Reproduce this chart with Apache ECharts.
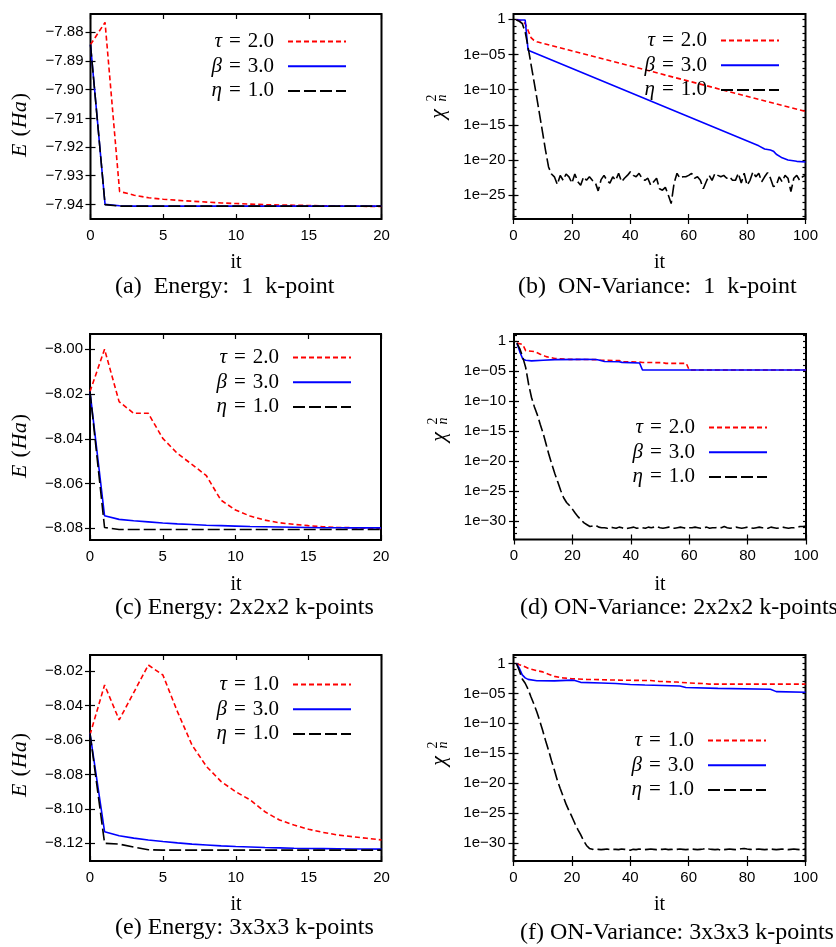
<!DOCTYPE html>
<html>
<head>
<meta charset="utf-8">
<title>SCF convergence: energy and ON-variance</title>
<script src="https://cdn.jsdelivr.net/npm/echarts@6.0.0/dist/echarts.min.js"></script>
<style>
  html, body { margin: 0; padding: 0; background: #ffffff; }
  #chart { width: 836px; height: 947px; }
</style>
</head>
<body>
<div id="chart"></div>
<script>
// ---------------- iterations ----------------
const itEnergy = [0, 1, 2, 3, 4, 5, 6, 7, 8, 9, 10, 11, 12, 13, 14, 15, 16, 17, 18, 19, 20];
const itVariance = [1, 2, 3, 4, 5, 6, 7, 8, 9, 10, 11, 12, 13, 14, 15, 16, 17, 18, 19, 20,
  21, 22, 23, 24, 25, 26, 27, 28, 29, 30, 31, 32, 33, 34, 35, 36, 37, 38, 39, 40,
  41, 42, 43, 44, 45, 46, 47, 48, 49, 50, 51, 52, 53, 54, 55, 56, 57, 58, 59, 60,
  61, 62, 63, 64, 65, 66, 67, 68, 69, 70, 71, 72, 73, 74, 75, 76, 77, 78, 79, 80,
  81, 82, 83, 84, 85, 86, 87, 88, 89, 90, 91, 92, 93, 94, 95, 96, 97, 98, 99, 100];

// ---------------- total energy E (Ha), one value per iteration ----------------
const energy1k_tau  = [-7.8843, -7.8765, -7.9355, -7.9368, -7.9377, -7.9382, -7.9386, -7.9389, -7.9392, -7.9395, -7.9397,
                       -7.9399, -7.9401, -7.9402, -7.9403, -7.9404, -7.9405, -7.9406, -7.9406, -7.9407, -7.9407];
const energy1k_beta = [-7.8843, -7.9400, -7.9405, -7.9406, -7.9406, -7.9406, -7.9406, -7.9406, -7.9406, -7.9406, -7.9406,
                       -7.9406, -7.9406, -7.9406, -7.9406, -7.9406, -7.9406, -7.9406, -7.9406, -7.9406, -7.9406];
const energy1k_eta  = [-7.8843, -7.9401, -7.9406, -7.9406, -7.9406, -7.9406, -7.9406, -7.9406, -7.9406, -7.9406, -7.9406,
                       -7.9406, -7.9406, -7.9406, -7.9406, -7.9406, -7.9406, -7.9406, -7.9406, -7.9406, -7.9406];

const energy2k_tau  = [-8.0189, -8.0000, -8.0234, -8.0286, -8.0286, -8.0398, -8.0465, -8.0514, -8.0565, -8.0674, -8.0718,
                       -8.0745, -8.0763, -8.0775, -8.0782, -8.0788, -8.0793, -8.0796, -8.0797, -8.0799, -8.0800];
const energy2k_beta = [-8.0189, -8.0744, -8.0760, -8.0766, -8.0771, -8.0776, -8.0780, -8.0783, -8.0786, -8.0788, -8.0790,
                       -8.0792, -8.0793, -8.0794, -8.0795, -8.0796, -8.0797, -8.0797, -8.0798, -8.0798, -8.0798];
const energy2k_eta  = [-8.0189, -8.0796, -8.0805, -8.0805, -8.0805, -8.0805, -8.0805, -8.0805, -8.0805, -8.0805, -8.0805,
                       -8.0805, -8.0805, -8.0805, -8.0805, -8.0805, -8.0805, -8.0805, -8.0805, -8.0805, -8.0805];

const energy3k_tau  = [-8.0570, -8.0281, -8.0484, -8.0325, -8.0165, -8.0223, -8.0436, -8.0630, -8.0755, -8.0842, -8.0901,
                       -8.0949, -8.1017, -8.1065, -8.1094, -8.1119, -8.1137, -8.1152, -8.1162, -8.1171, -8.1181];
const energy3k_beta = [-8.0562, -8.1133, -8.1156, -8.1170, -8.1181, -8.1190, -8.1198, -8.1205, -8.1210, -8.1215, -8.1219,
                       -8.1222, -8.1225, -8.1227, -8.1229, -8.1230, -8.1231, -8.1232, -8.1233, -8.1233, -8.1234];
const energy3k_eta  = [-8.0562, -8.1200, -8.1205, -8.1222, -8.1238, -8.1240, -8.1240, -8.1240, -8.1240, -8.1240, -8.1240,
                       -8.1240, -8.1240, -8.1240, -8.1240, -8.1240, -8.1240, -8.1240, -8.1240, -8.1240, -8.1240];

// ---------------- ON-variance chi^2_n, stored as log10(chi^2_n) ----------------
// [iteration, log10] pairs where the curve is piecewise straight
const chi1k_tau  = [[1, -0.1], [2, -0.15], [3, -0.3], [4, -0.6], [5, -1.6], [6, -2.6], [7, -3.0], [8, -3.2], [100, -13.1]];
const chi1k_beta = [[1, -0.1], [2, -0.1], [3, -0.1], [4, -0.1], [5, -4.4], [84, -18.0], [86, -18.45], [88, -18.6],
                    [89, -18.75], [90, -19.2], [92, -19.7], [94, -20.0], [97, -20.2], [100, -20.3]];
// one value per iteration 1..100
const chi1k_eta  = [-0.1, -0.3, -0.6, -1.8, -4.0, -6.4, -8.8, -11.2, -13.7, -16.2,
  -18.7, -21.0, -22.0, -22.4, -23.5, -22.2, -22.9, -22.0, -22.4, -23.3,
  -22.0, -23.1, -23.6, -22.4, -22.9, -22.4, -22.9, -23.2, -24.4, -22.8,
  -22.2, -22.9, -23.3, -22.4, -22.9, -21.9, -23.1, -22.6, -22.2, -21.7,
  -22.2, -22.4, -21.9, -22.6, -22.9, -22.6, -23.6, -23.1, -22.6, -24.1,
  -24.3, -23.9, -25.0, -26.2, -23.3, -21.9, -22.6, -22.4, -22.4, -22.2,
  -21.9, -22.6, -22.4, -22.9, -24.1, -23.1, -22.2, -22.9, -21.9, -22.2,
  -22.4, -22.2, -22.6, -22.4, -22.9, -22.9, -21.9, -23.3, -21.9, -23.6,
  -22.9, -21.7, -22.4, -21.9, -23.1, -22.4, -21.8, -22.6, -23.8, -23.6,
  -22.4, -23.1, -22.2, -22.6, -24.5, -22.6, -22.2, -22.9, -22.4, -22.2];

const chi2k_tau  = [[1, -0.35], [2, -0.45], [3, -0.6], [4, -1.6], [7, -1.75], [9, -2.2], [11, -2.6], [14, -2.9], [19, -3.05],
                    [28, -3.1], [29, -3.2], [36, -3.25], [37, -3.45], [43, -3.5], [44, -3.58], [51, -3.6], [52, -3.72],
                    [59, -3.72], [60, -4.83], [100, -4.83]];
const chi2k_beta = [[1, -0.35], [2, -1.8], [3, -3.0], [4, -3.2], [6, -3.3], [10, -3.2], [14, -3.1], [24, -3.05], [28, -3.08],
                    [29, -3.17], [31, -3.4], [36, -3.45], [37, -3.56], [43, -3.65], [44, -4.83], [100, -4.83]];
const chi2k_eta  = [-0.35, -1.3, -2.7, -4.4, -7.2, -9.4, -11.0, -12.3, -13.9, -15.4,
  -17.2, -19.0, -20.6, -22.1, -23.5, -24.9, -26.1, -26.9, -27.4, -28.0,
  -28.7, -29.3, -29.8, -30.3, -30.6, -30.9, -30.8, -30.7, -31.0, -31.1,
  -31.1, -31.2, -31.0, -31.1, -31.2, -31.0, -31.1, -31.3, -31.2, -31.1,
  -31.0, -31.2, -31.1, -31.1, -31.2, -31.0, -31.1, -31.0, -30.9, -31.1,
  -31.2, -31.1, -31.0, -31.1, -31.2, -31.1, -31.0, -31.1, -31.2, -31.1,
  -31.1, -31.0, -31.1, -31.2, -31.1, -31.0, -31.2, -31.1, -31.1, -31.0,
  -31.1, -30.9, -31.1, -31.2, -31.1, -31.0, -31.1, -31.2, -31.1, -31.0,
  -31.1, -31.2, -31.1, -31.0, -31.1, -31.1, -31.2, -31.0, -31.1, -31.2,
  -31.1, -31.0, -31.1, -31.2, -31.1, -31.1, -31.0, -30.9, -30.9, -30.8];

const chi3k_tau  = [[1, 0], [2, -0.2], [3, -0.35], [5, -0.8], [8, -1.2], [10, -1.4], [12, -1.8], [14, -2.15], [17, -2.4],
                    [20, -2.55], [25, -2.65], [35, -2.77], [47, -2.85], [50, -3.0], [56, -3.1], [60, -3.25], [65, -3.35],
                    [67, -3.45], [100, -3.45]];
const chi3k_beta = [[1, 0], [2, -0.8], [3, -1.9], [4, -2.4], [5, -2.65], [8, -2.88], [14, -2.9], [20, -2.78], [21, -2.85],
                    [23, -3.15], [30, -3.25], [35, -3.33], [40, -3.5], [45, -3.6], [57, -3.75], [59, -4.0], [70, -4.15],
                    [88, -4.3], [90, -4.7], [100, -4.8]];
const chi3k_eta  = [0, -1.2, -2.6, -3.3, -4.3, -5.6, -6.8, -8.1, -9.6, -11.2,
  -12.9, -14.5, -16.2, -17.8, -19.5, -20.9, -22.2, -23.5, -24.6, -25.6,
  -26.7, -27.7, -28.6, -29.6, -30.4, -30.9, -31.05, -31.0, -31.05, -31.1,
  -31.05, -31.0, -31.1, -31.05, -31.05, -31.1, -31.0, -31.05, -31.1, -31.2,
  -31.05, -31.1, -31.0, -31.05, -31.1, -31.05, -31.0, -31.05, -31.1, -31.05,
  -31.05, -31.0, -31.1, -31.05, -31.1, -31.05, -31.0, -31.05, -31.1, -31.05,
  -31.0, -31.05, -31.1, -31.05, -31.0, -30.85, -31.0, -31.05, -31.1, -31.05,
  -31.2, -31.1, -31.05, -31.0, -31.05, -31.1, -31.05, -30.95, -30.9, -31.0,
  -31.05, -31.1, -31.05, -31.0, -31.05, -31.1, -31.05, -31.0, -31.05, -31.1,
  -31.05, -31.0, -31.05, -31.1, -31.05, -31.0, -31.05, -31.1, -31.05, -31.0];

// ---------------- ticks and labels ----------------
const energyXTicks = [0, 5, 10, 15, 20];
const varianceXTicks = [0, 20, 40, 60, 80, 100];
const eTicks1k = [-7.94, -7.93, -7.92, -7.91, -7.90, -7.89, -7.88];
const eTicks2k = [-8.08, -8.06, -8.04, -8.02, -8.00];
const eTicks3k = [-8.12, -8.10, -8.08, -8.06, -8.04, -8.02];
const chiMajorExp = [0, -5, -10, -15, -20, -25, -30];
const chiMajorLabels = ['1', '1e\u221205', '1e\u221210', '1e\u221215', '1e\u221220', '1e\u221225', '1e\u221230'];
const chiMinorExp = [1, 0, -1, -2, -3, -4, -5, -6, -7, -8, -9, -10, -11, -12, -13, -14, -15, -16, -17,
  -18, -19, -20, -21, -22, -23, -24, -25, -26, -27, -28, -29, -30, -31, -32, -33];

const legendNames12 = ['\u03c4 = 2.0', '\u03b2 = 3.0', '\u03b7 = 1.0'];
const legendNames3  = ['\u03c4 = 1.0', '\u03b2 = 3.0', '\u03b7 = 1.0'];
const captions = ['(a)  Energy:  1  k-point', '(b)  ON-Variance:  1  k-point',
  '(c) Energy: 2x2x2 k-points', '(d) ON-Variance: 2x2x2 k-points',
  '(e) Energy: 3x3x3 k-points', '(f) ON-Variance: 3x3x3 k-points'];

// ---------------- styling ----------------
const SANS = 'Liberation Sans, Arial, Helvetica, sans-serif';
const SERIF = 'Liberation Serif, Times New Roman, serif';
const LINE_STYLES = [
  { color: '#ff0000', width: 1.6, type: [5, 3] },
  { color: '#0000ff', width: 1.6, type: 'solid' },
  { color: '#000000', width: 1.6, type: [12, 4] }
];

const option = {
  animation: false,
  backgroundColor: '#ffffff',
  grid: [], xAxis: [], yAxis: [], series: [], legend: [], graphic: []
};

const minus = s => s.replace('-', '\u2212');

function tickStyle(len) {
  return { show: true, inside: true, length: len, lineStyle: { color: '#000', width: 1.2 } };
}

function addXAxes(g, range, ticks) {
  const idx = option.xAxis.length;
  ['bottom', 'top'].forEach((pos, k) => {
    option.xAxis.push({
      type: 'value', gridIndex: g, position: pos, min: range[0], max: range[1],
      axisLine: { show: false }, splitLine: { show: false },
      axisTick: Object.assign(tickStyle(5), { customValues: ticks }),
      axisLabel: {
        show: k === 0, customValues: ticks, margin: 9, color: '#000',
        fontFamily: SANS, fontSize: 15, formatter: v => String(v)
      }
    });
  });
  return idx;
}

function addEnergyYAxes(g, range, ticks) {
  const idx = option.yAxis.length;
  ['left', 'right'].forEach((pos, k) => {
    option.yAxis.push({
      type: 'value', gridIndex: g, position: pos, min: range[0], max: range[1],
      axisLine: { show: false }, splitLine: { show: false },
      axisTick: Object.assign(tickStyle(5), { customValues: ticks }),
      axisLabel: {
        show: k === 0, customValues: ticks, margin: 7, color: '#000',
        fontFamily: SANS, fontSize: 15, formatter: v => minus(v.toFixed(2))
      }
    });
  });
  return idx;
}

function addLogYAxes(g, expRange) {
  const idx = option.yAxis.length;
  const min = Math.pow(10, expRange[0]), max = Math.pow(10, expRange[1]);
  const inRange = e => e >= expRange[0] && e <= expRange[1];
  const majors = chiMajorExp.filter(inRange).map(e => Math.pow(10, e));
  const minors = chiMinorExp.filter(inRange).map(e => Math.pow(10, e));
  const labelOf = v => {
    const k = chiMajorExp.indexOf(Math.round(Math.log10(v)));
    return k >= 0 ? chiMajorLabels[k] : '';
  };
  ['left', 'right'].forEach((pos, k) => {
    option.yAxis.push({
      type: 'log', logBase: 10, gridIndex: g, position: pos, min, max,
      axisLine: { show: false }, splitLine: { show: false }, minorSplitLine: { show: false },
      axisTick: Object.assign(tickStyle(5), { customValues: majors }),
      axisLabel: {
        show: k === 0, customValues: majors, margin: 8, color: '#000',
        fontFamily: SANS, fontSize: 15, formatter: labelOf
      }
    });
  });
  ['left', 'right'].forEach(pos => {
    option.yAxis.push({
      type: 'log', logBase: 10, gridIndex: g, position: pos, min, max,
      axisLine: { show: false }, splitLine: { show: false },
      axisTick: Object.assign(tickStyle(3), { customValues: minors }),
      axisLabel: { show: false }
    });
  });
  return idx;
}

function addLegend(names, right, top) {
  option.legend.push({
    data: names, orient: 'vertical', right, top, align: 'right',
    itemWidth: 58, itemHeight: 20, itemGap: 3.7, padding: 0, selectedMode: false,
    itemStyle: { opacity: 0 },
    textStyle: {
      color: '#000', fontFamily: SERIF, fontSize: 21, lineHeight: 20,
      rich: {
        g: { fontFamily: SERIF, fontSize: 21, lineHeight: 20, fontStyle: 'italic', color: '#000' },
        e: { fontFamily: SERIF, fontSize: 21, lineHeight: 20, color: '#000', padding: [0, 7, 0, 7] },
        n: { fontFamily: SERIF, fontSize: 21, lineHeight: 20, color: '#000', padding: [0, 9, 0, 0] }
      }
    },
    formatter: name => {
      const parts = name.split(' = ');
      return '{g|' + parts[0] + '}{e|=}{n|' + parts[1] + '}';
    }
  });
}

function addSeries(names, curves, xIdx, yIdx) {
  curves.forEach((data, k) => {
    option.series.push({
      type: 'line', name: names[k], xAxisIndex: xIdx, yAxisIndex: yIdx,
      data, symbol: 'none', showSymbol: false, clip: true, silent: true,
      lineStyle: LINE_STYLES[k], itemStyle: { color: LINE_STYLES[k].color },
      emphasis: { disabled: true }, z: 2 + k
    });
  });
}

function textEl(x, y, text, font, align, extra) {
  return Object.assign({
    type: 'text', x, y, silent: true,
    style: { text, font, fill: '#000', align: align || 'center', verticalAlign: 'middle',
             textAlign: align || 'center', textVerticalAlign: 'middle' }
  }, extra || {});
}

function energyName(x, y) {
  option.graphic.push({
    type: 'text', x, y, rotation: Math.PI / 2, silent: true,
    style: {
      text: '{i|E}{l|(}{i|Ha}{r|)}', fill: '#000', align: 'center', verticalAlign: 'middle',
      textAlign: 'center', textVerticalAlign: 'middle',
      rich: {
        i: { fontFamily: SERIF, fontSize: 22, fontStyle: 'italic', fill: '#000', color: '#000' },
        l: { fontFamily: SERIF, fontSize: 22, fill: '#000', color: '#000', padding: [0, 1, 0, 7] },
        r: { fontFamily: SERIF, fontSize: 22, fill: '#000', color: '#000', padding: [0, 0, 0, 1] }
      }
    }
  });
}

function chiName(x, y) {
  option.graphic.push({
    type: 'group', x, y, rotation: Math.PI / 2, silent: true,
    children: [
      textEl(-6, 0, '\u03c7', 'italic 22px ' + SERIF),
      textEl(10, -5.5, '2', '14px ' + SERIF),
      textEl(10, 4.5, 'n', 'italic 14px ' + SERIF)
    ]
  });
}

// ---------------- panel layout ----------------
const energyPanels = [
  { box: [90.5, 14, 291, 205], yRange: [-7.9451, -7.8736], ticks: eTicks1k,
    curves: [energy1k_tau, energy1k_beta, energy1k_eta], names: legendNames12,
    legend: [489, 31], yName: [20, 125], itLabel: [236, 263], caption: [115, 287, 0] },
  { box: [90, 334, 291, 206], yRange: [-8.0852, -7.9932], ticks: eTicks2k,
    curves: [energy2k_tau, energy2k_beta, energy2k_eta], names: legendNames12,
    legend: [484, 347], yName: [20, 446], itLabel: [236, 585], caption: [115, 608, 2] },
  { box: [90, 655, 291.5, 206], yRange: [-8.1303, -8.0107], ticks: eTicks3k,
    curves: [energy3k_tau, energy3k_beta, energy3k_eta], names: legendNames3,
    legend: [484, 674], yName: [20, 765], itLabel: [236, 905], caption: [115, 928, 4] }
];
const variancePanels = [
  { box: [513.5, 14, 292, 205], yRange: [-28.4, 0.75],
    curves: [chi1k_tau, chi1k_beta, chi1k_eta], names: legendNames12,
    legend: [56, 30], yName: [438, 108], itLabel: [659.5, 263], caption: [518, 287, 1] },
  { box: [514, 334, 292, 205.5], yRange: [-33.06, 1.17],
    curves: [chi2k_tau, chi2k_beta, chi2k_eta], names: legendNames12,
    legend: [68, 417], yName: [439, 431], itLabel: [660, 585], caption: [520, 608, 3] },
  { box: [513.5, 655, 292, 206], yRange: [-33.0, 1.42],
    curves: [chi3k_tau, chi3k_beta, chi3k_eta], names: legendNames3,
    legend: [69, 730], yName: [439, 755], itLabel: [659.5, 905], caption: [520, 933, 5] }
];

function addGrid(box) {
  option.grid.push({
    left: box[0], top: box[1], width: box[2], height: box[3],
    show: true, borderWidth: 2, borderColor: '#000', backgroundColor: 'rgba(0,0,0,0)'
  });
  return option.grid.length - 1;
}

function addTexts(p) {
  option.graphic.push(textEl(p.itLabel[0], p.itLabel[1], 'it', '20px ' + SERIF));
  option.graphic.push(textEl(p.caption[0], p.caption[1], captions[p.caption[2]], '24px ' + SERIF, 'left'));
}

energyPanels.forEach(p => {
  const g = addGrid(p.box);
  const xIdx = addXAxes(g, [0, 20], energyXTicks);
  const yIdx = addEnergyYAxes(g, p.yRange, p.ticks);
  const curves = p.curves.map(vals => vals.map((v, i) => [itEnergy[i], v]));
  addSeries(p.names, curves, xIdx, yIdx);
  addLegend(p.names, p.legend[0], p.legend[1]);
  energyName(p.yName[0], p.yName[1]);
  addTexts(p);
});

variancePanels.forEach(p => {
  const g = addGrid(p.box);
  const xIdx = addXAxes(g, [0, 100], varianceXTicks);
  const yIdx = addLogYAxes(g, p.yRange);
  const curves = p.curves.map(c => Array.isArray(c[0])
    ? c.map(([it, e]) => [it, Math.pow(10, e)])
    : c.map((e, i) => [itVariance[i], Math.pow(10, e)]));
  addSeries(p.names, curves, xIdx, yIdx);
  addLegend(p.names, p.legend[0], p.legend[1]);
  chiName(p.yName[0], p.yName[1]);
  addTexts(p);
});

const chart = echarts.init(document.getElementById('chart'), null, { renderer: 'canvas' });
chart.setOption(option);
</script>
</body>
</html>
